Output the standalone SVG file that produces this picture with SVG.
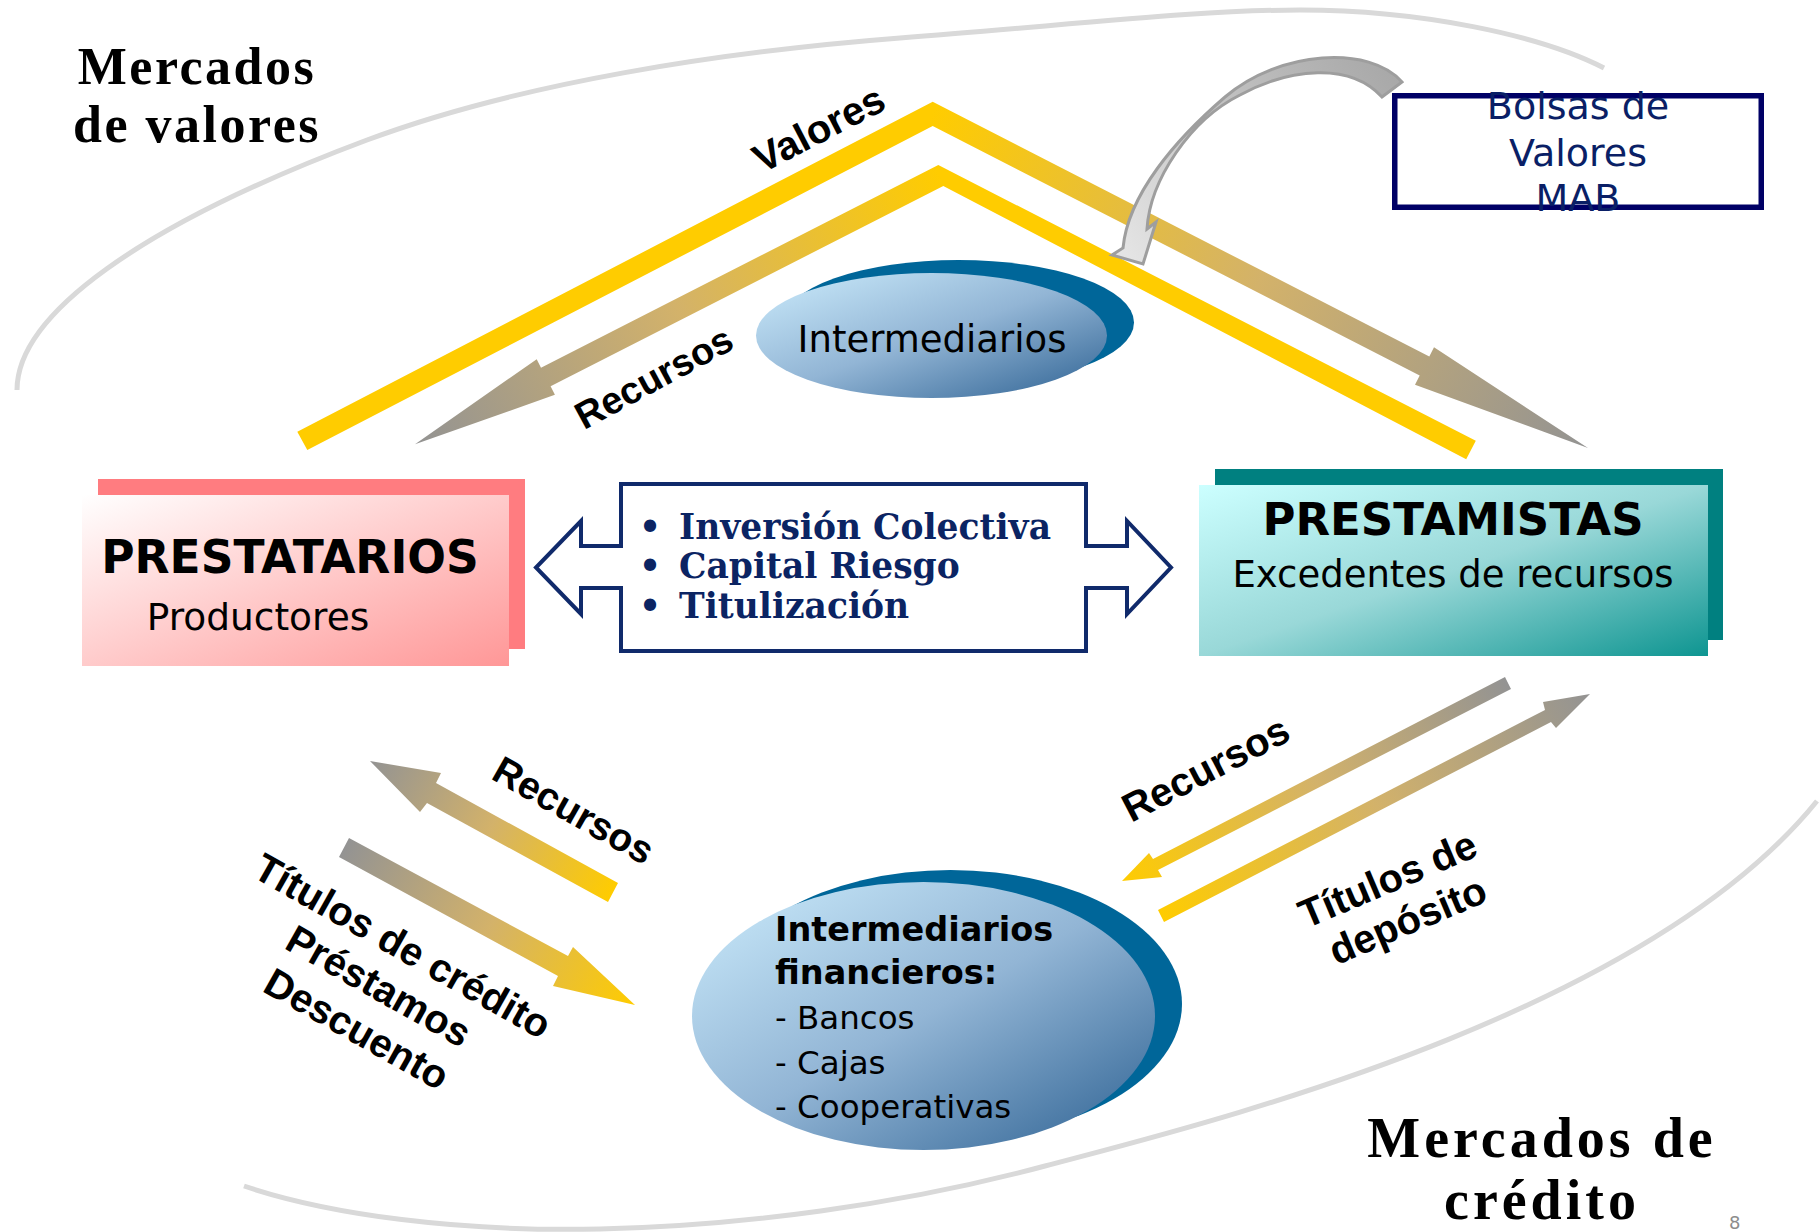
<svg xmlns="http://www.w3.org/2000/svg" width="1820" height="1232" viewBox="0 0 1820 1232">
<style>
.arc{fill:none;stroke:#D9D9D9;stroke-width:5}
.lbl{font-family:"Liberation Sans",Arial,sans-serif;font-weight:bold;font-size:40px;fill:#000;text-anchor:middle}
.title{font-family:"Liberation Serif","Times New Roman",serif;font-weight:bold;fill:#000;text-anchor:middle;letter-spacing:2.5px}
.sans{font-family:"DejaVu Sans",Verdana,sans-serif;fill:#000}
.bold{font-weight:bold}
.mid{text-anchor:middle}
.bul{font-family:"DejaVu Serif",Georgia,serif;font-weight:bold;font-size:34.5px;fill:#0B2463}
.navy{fill:#0A1F66}
.shadowblue{fill:#006699}
</style>
<defs>
<linearGradient id="gOut" gradientUnits="userSpaceOnUse" x1="932" y1="114" x2="1588" y2="448">
<stop offset="0" stop-color="#FFCC00"/><stop offset="0.5" stop-color="#D3B26A"/><stop offset="1" stop-color="#939393"/>
</linearGradient>
<linearGradient id="gIn" gradientUnits="userSpaceOnUse" x1="940" y1="176" x2="415" y2="444">
<stop offset="0" stop-color="#FFCC00"/><stop offset="0.5" stop-color="#D3B26A"/><stop offset="1" stop-color="#939393"/>
</linearGradient>
<linearGradient id="gL1" gradientUnits="userSpaceOnUse" x1="613" y1="892" x2="370" y2="761">
<stop offset="0" stop-color="#FFCC00"/><stop offset="0.5" stop-color="#D3B26A"/><stop offset="1" stop-color="#939393"/>
</linearGradient>
<linearGradient id="gL2" gradientUnits="userSpaceOnUse" x1="635" y1="1005" x2="344" y2="847">
<stop offset="0" stop-color="#FFCC00"/><stop offset="0.5" stop-color="#D3B26A"/><stop offset="1" stop-color="#939393"/>
</linearGradient>
<linearGradient id="gR1" gradientUnits="userSpaceOnUse" x1="1122" y1="881" x2="1508" y2="683">
<stop offset="0" stop-color="#FFCC00"/><stop offset="0.5" stop-color="#D3B26A"/><stop offset="1" stop-color="#939393"/>
</linearGradient>
<linearGradient id="gR2" gradientUnits="userSpaceOnUse" x1="1161" y1="916" x2="1590" y2="694">
<stop offset="0" stop-color="#FFCC00"/><stop offset="0.5" stop-color="#D3B26A"/><stop offset="1" stop-color="#939393"/>
</linearGradient>
<linearGradient id="gCurve" gradientUnits="userSpaceOnUse" x1="1400" y1="80" x2="1130" y2="260">
<stop offset="0" stop-color="#A8A8A8"/><stop offset="0.5" stop-color="#C2C2C2"/><stop offset="1" stop-color="#E4E4E4"/>
</linearGradient>
<linearGradient id="gPink" x1="0" y1="0" x2="1" y2="1">
<stop offset="0" stop-color="#FFFFFF"/><stop offset="1" stop-color="#FF9797"/>
</linearGradient>
<linearGradient id="gTeal" x1="0" y1="0" x2="1" y2="1">
<stop offset="0" stop-color="#CCFFFF"/><stop offset="0.5" stop-color="#99D8D8"/><stop offset="1" stop-color="#0E9591"/>
</linearGradient>
<linearGradient id="gBlue" x1="0" y1="0" x2="1" y2="1">
<stop offset="0" stop-color="#CCECFC"/><stop offset="0.5" stop-color="#92B5D5"/><stop offset="1" stop-color="#2D6192"/>
</linearGradient>
</defs>

<g id="market-outline">
<path class="arc" d="M17,390 C17,315 140,225 367,140 C520,83 720,52 900,38 C1080,24 1200,10 1300,10 C1420,10 1540,35 1604,68"/>
<path class="arc" d="M244,1186 C330,1215 460,1232 600,1229 C740,1226 900,1205 1045,1166 C1190,1127 1640,1020 1817,801"/>
</g>

<g id="connectors">
<polygon id="arrow-valores" fill="url(#gOut)" points="297.3,431.7 932.7,101.7 1429.3,356.6 1434,347.3 1588,448 1415,384.7 1419.7,375.4 932.7,126 307.3,450"/>
<polygon id="arrow-recursos-top" fill="url(#gIn)" points="1475.8,440.7 938.3,165 541,367.7 536.7,359.2 415,444.3 554.9,394.8 550.6,386.3 943.3,186 1466.2,459.3"/>
<polygon id="arrow-recursos-left" fill="url(#gL1)" points="370,761 441,773 436,783 618,883 608,902 427,803 420,812"/>
<polygon id="arrow-titulos-left" fill="url(#gL2)" points="349,838 568,956 573,947 635,1005 553,986 558,976 339,857"/>
<polygon id="arrow-recursos-right" fill="url(#gR1)" points="1505,677 1153,859 1149,853 1122,881 1162,877 1158,870 1511,689"/>
<polygon id="arrow-titulos-right" fill="url(#gR2)" points="1158,910 1545,710 1543,702 1590,694 1556,728 1551,722 1164,922"/>
<path id="arrow-bolsas" fill="url(#gCurve)" stroke="#9E9E9E" stroke-width="3" stroke-linejoin="miter" d="M1402,82 C1370,45 1280,50 1225,97 C1175,140 1128,195 1123,248 L1112,255 L1143,264 L1156,222 L1147,229 C1150,180 1190,120 1240,95 C1290,68 1350,62 1382,97 Z"/>
<text class="lbl" transform="translate(825,141) rotate(-27.5)">Valores</text>
<text class="lbl" style="font-size:38px" transform="translate(660,389) rotate(-28.5)">Recursos</text>
<text class="lbl" style="font-size:39px" transform="translate(567,822) rotate(29.5)">Recursos</text>
<text class="lbl" transform="translate(396,958) rotate(29.5)">Títulos de crédito</text>
<text class="lbl" transform="translate(372,998) rotate(29.5)">Préstamos</text>
<text class="lbl" transform="translate(350,1041) rotate(29.5)">Descuento</text>
<text class="lbl" transform="translate(1212,781) rotate(-27.5)">Recursos</text>
<text class="lbl" transform="translate(1393,892) rotate(-23)">Títulos de</text>
<text class="lbl" transform="translate(1413,933) rotate(-23)">depósito</text>
</g>

<g id="mercados-valores">
<text class="title" style="font-size:52px" x="197" y="84">Mercados</text>
<text class="title" style="font-size:52px" x="197" y="142">de valores</text>
</g>

<g id="mercados-credito">
<text class="title" style="font-size:56px;letter-spacing:4px" x="1542" y="1157">Mercados de</text>
<text class="title" style="font-size:56px;letter-spacing:4px" x="1542" y="1219">crédito</text>
</g>

<g id="bolsas">
<rect x="1394.75" y="95.75" width="366.5" height="111.5" fill="#FFFFFF" stroke="#000066" stroke-width="5.5"/>
<text class="sans navy mid" style="font-size:38px" x="1578" y="119">Bolsas de</text>
<text class="sans navy mid" style="font-size:38px" x="1578" y="166">Valores</text>
<text class="sans navy mid" style="font-size:38px" x="1578" y="211">MAB</text>
</g>

<g id="intermediarios">
<ellipse class="shadowblue" cx="958.5" cy="322.5" rx="175.5" ry="62.5"/>
<ellipse fill="url(#gBlue)" cx="931.5" cy="335.5" rx="175.5" ry="62.5"/>
<text class="sans mid" style="font-size:37px" x="932" y="352">Intermediarios</text>
</g>

<g id="prestatarios">
<rect x="98" y="479" width="427" height="170" fill="#FF7C80"/>
<rect x="82" y="495" width="427" height="171" fill="url(#gPink)"/>
<text class="sans bold mid" style="font-size:45.5px" x="290" y="573">PRESTATARIOS</text>
<text class="sans mid" style="font-size:37.5px" x="258" y="630">Productores</text>
</g>

<g id="instrumentos">
<path fill="#FFFFFF" stroke="#102A6B" stroke-width="4" stroke-linejoin="miter" d="M621,484 L1086,484 L1086,546 L1127,546 L1127,521 L1171,567.5 L1127,614 L1127,588 L1086,588 L1086,651 L621,651 L621,588 L581,588 L581,614 L536,567.5 L581,521 L581,546 L621,546 Z"/>
<text class="bul" x="639" y="539">•</text>
<text class="bul" x="639" y="578">•</text>
<text class="bul" x="639" y="618">•</text>
<text class="bul" x="679" y="539">Inversión Colectiva</text>
<text class="bul" x="679" y="578">Capital Riesgo</text>
<text class="bul" x="679" y="618">Titulización</text>
</g>

<g id="prestamistas">
<rect x="1215" y="469" width="508" height="171" fill="#008080"/>
<rect x="1199" y="485" width="509" height="171" fill="url(#gTeal)"/>
<text class="sans bold mid" style="font-size:45px" x="1453" y="535">PRESTAMISTAS</text>
<text class="sans mid" style="font-size:37px" x="1453" y="587">Excedentes de recursos</text>
</g>

<g id="intermediarios-financieros">
<ellipse class="shadowblue" cx="950.5" cy="1004" rx="231.5" ry="134"/>
<ellipse fill="url(#gBlue)" cx="923.5" cy="1016" rx="231.5" ry="134"/>
<text class="sans bold" style="font-size:33.5px" x="775" y="941">Intermediarios</text>
<text class="sans bold" style="font-size:33.5px" x="775" y="984">financieros:</text>
<text class="sans" style="font-size:32.5px" x="775" y="1029">- Bancos</text>
<text class="sans" style="font-size:32.5px" x="775" y="1074">- Cajas</text>
<text class="sans" style="font-size:32.5px" x="775" y="1118">- Cooperativas</text>
</g>

<g id="page-number">
<text class="sans" style="font-size:18px;fill:#8C8C8C" x="1729" y="1229">8</text>
</g>
</svg>
